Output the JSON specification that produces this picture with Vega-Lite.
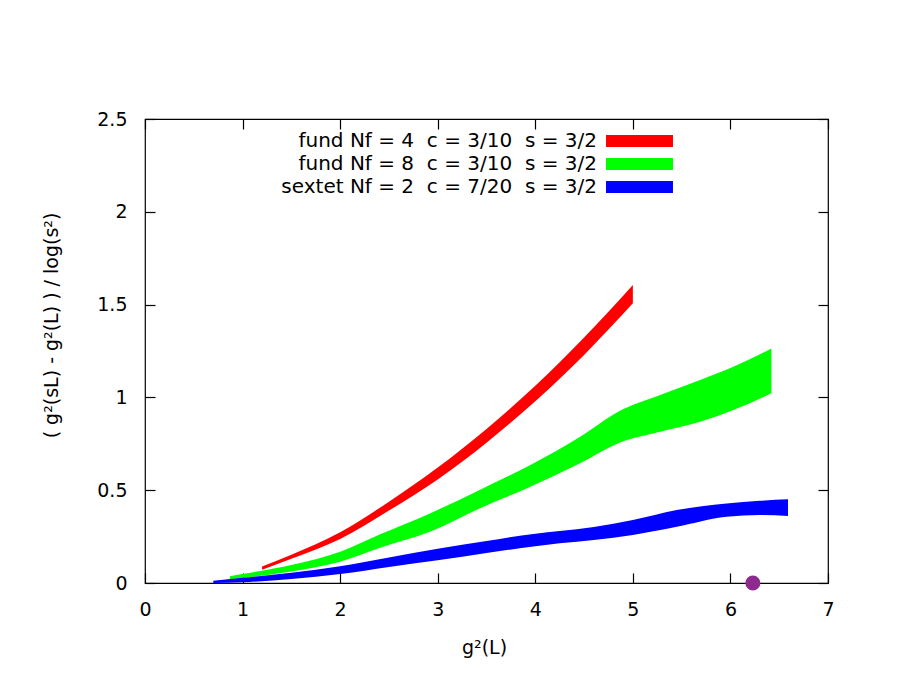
{
  "$schema": "https://vega.github.io/schema/vega-lite/v6.json",
  "width": 683,
  "height": 464,
  "autosize": "none",
  "padding": {"left": 145, "top": 119, "right": 72, "bottom": 92},
  "background": "white",
  "config": {
    "view": {"stroke": "black", "strokeWidth": 1.2},
    "font": "DejaVu Sans",
    "axis": {
      "domain": false,
      "grid": false,
      "tickColor": "black",
      "tickWidth": 1.2,
      "tickSize": -10,
      "labelFont": "DejaVu Sans",
      "labelFontSize": 19,
      "labelColor": "black",
      "labelFlush": false,
      "labelOverlap": false,
      "titleFont": "DejaVu Sans",
      "titleFontSize": 19,
      "titleFontWeight": "normal",
      "titleColor": "black"
    }
  },
  "datasets": {
    "bands": [
      {"series": "red", "x": 1.2, "lo": 0.071, "hi": 0.089},
      {"series": "red", "x": 1.5, "lo": 0.130, "hi": 0.152},
      {"series": "red", "x": 2.0, "lo": 0.237, "hi": 0.273},
      {"series": "red", "x": 2.5, "lo": 0.390, "hi": 0.438},
      {"series": "red", "x": 3.0, "lo": 0.558, "hi": 0.622},
      {"series": "red", "x": 3.5, "lo": 0.756, "hi": 0.830},
      {"series": "red", "x": 4.0, "lo": 0.979, "hi": 1.063},
      {"series": "red", "x": 4.5, "lo": 1.229, "hi": 1.323},
      {"series": "red", "x": 5.0, "lo": 1.507, "hi": 1.606},
      {"series": "green", "x": 0.87, "lo": 0.020, "hi": 0.036},
      {"series": "green", "x": 1.0, "lo": 0.027, "hi": 0.048},
      {"series": "green", "x": 1.5, "lo": 0.062, "hi": 0.097},
      {"series": "green", "x": 2.0, "lo": 0.115, "hi": 0.168},
      {"series": "green", "x": 2.41, "lo": 0.190, "hi": 0.262},
      {"series": "green", "x": 2.92, "lo": 0.276, "hi": 0.375},
      {"series": "green", "x": 3.43, "lo": 0.402, "hi": 0.501},
      {"series": "green", "x": 3.95, "lo": 0.519, "hi": 0.636},
      {"series": "green", "x": 4.46, "lo": 0.645, "hi": 0.788},
      {"series": "green", "x": 4.85, "lo": 0.753, "hi": 0.923},
      {"series": "green", "x": 5.28, "lo": 0.815, "hi": 1.013},
      {"series": "green", "x": 5.69, "lo": 0.869, "hi": 1.094},
      {"series": "green", "x": 6.03, "lo": 0.932, "hi": 1.165},
      {"series": "green", "x": 6.42, "lo": 1.022, "hi": 1.264},
      {"series": "blue", "x": 0.70, "lo": 0.000, "hi": 0.012},
      {"series": "blue", "x": 1.0, "lo": 0.004, "hi": 0.028},
      {"series": "blue", "x": 1.5, "lo": 0.022, "hi": 0.055},
      {"series": "blue", "x": 2.0, "lo": 0.048, "hi": 0.090},
      {"series": "blue", "x": 2.5, "lo": 0.086, "hi": 0.138},
      {"series": "blue", "x": 3.0, "lo": 0.122, "hi": 0.185},
      {"series": "blue", "x": 3.5, "lo": 0.162, "hi": 0.226},
      {"series": "blue", "x": 4.0, "lo": 0.198, "hi": 0.266},
      {"series": "blue", "x": 4.25, "lo": 0.214, "hi": 0.280},
      {"series": "blue", "x": 4.6, "lo": 0.232, "hi": 0.302},
      {"series": "blue", "x": 5.0, "lo": 0.259, "hi": 0.339},
      {"series": "blue", "x": 5.45, "lo": 0.303, "hi": 0.393},
      {"series": "blue", "x": 5.96, "lo": 0.357, "hi": 0.429},
      {"series": "blue", "x": 6.30, "lo": 0.366, "hi": 0.443},
      {"series": "blue", "x": 6.59, "lo": 0.361, "hi": 0.451}
    ],
    "dot": [
      {"x": 6.23, "y": 0}
    ]
  },
  "layer": [
    {
      "data": {"name": "bands"},
      "transform": [
        {"lookup": "series", "from": {"data": {"values": [
          {"series": "red", "label": "fund Nf = 4\u00a0\u00a0c = 3/10\u00a0\u00a0s = 3/2"},
          {"series": "green", "label": "fund Nf = 8\u00a0\u00a0c = 3/10\u00a0\u00a0s = 3/2"},
          {"series": "blue", "label": "sextet Nf = 2\u00a0\u00a0c = 7/20\u00a0\u00a0s = 3/2"}
        ]}, "key": "series", "fields": ["label"]}}
      ],
      "mark": {"type": "area", "interpolate": "monotone", "opacity": 1},
      "encoding": {
        "x": {
          "field": "x", "type": "quantitative",
          "scale": {"domain": [0, 7], "nice": false},
          "axis": {
            "orient": "bottom", "values": [0, 1, 2, 3, 4, 5, 6, 7], "format": "d",
            "labelPadding": 27, "title": "g²(L)",
            "titleX": 339, "titleY": 70, "titleBaseline": "alphabetic"
          }
        },
        "y": {
          "field": "lo", "type": "quantitative",
          "scale": {"domain": [0, 2.5], "nice": false},
          "axis": {
            "orient": "left", "values": [0, 0.5, 1, 1.5, 2, 2.5], "format": "~g",
            "labelPadding": 28, "title": "( g²(sL) - g²(L) ) / log(s²)",
            "titleX": -88, "titleY": 206, "titleAngle": -90,
            "titleAlign": "center", "titleBaseline": "alphabetic"
          }
        },
        "y2": {"field": "hi"},
        "color": {
          "field": "label", "type": "nominal",
          "sort": [
            "fund Nf = 4\u00a0\u00a0c = 3/10\u00a0\u00a0s = 3/2",
            "fund Nf = 8\u00a0\u00a0c = 3/10\u00a0\u00a0s = 3/2",
            "sextet Nf = 2\u00a0\u00a0c = 7/20\u00a0\u00a0s = 3/2"
          ],
          "scale": {
            "domain": [
              "fund Nf = 4\u00a0\u00a0c = 3/10\u00a0\u00a0s = 3/2",
              "fund Nf = 8\u00a0\u00a0c = 3/10\u00a0\u00a0s = 3/2",
              "sextet Nf = 2\u00a0\u00a0c = 7/20\u00a0\u00a0s = 3/2"
            ],
            "range": ["#ff0000", "#00ff00", "#0000ff"]
          },
          "legend": {
            "orient": "none", "legendX": 484.5, "legendY": 12, "title": null,
            "symbolType": "M-5.58,-1H5.58V1H-5.58Z", "symbolSize": 144,
            "symbolStrokeWidth": 0, "symbolOpacity": 1,
            "labelAlign": "right", "labelOffset": -52.5, "labelFontSize": 20,
            "labelFont": "DejaVu Sans", "labelColor": "black", "labelLimit": 0,
            "rowPadding": 3, "padding": 0
          }
        }
      }
    },
    {
      "data": {"name": "dot"},
      "mark": {"type": "circle", "color": "#8e2a8e", "opacity": 1, "size": 227},
      "encoding": {
        "x": {
          "field": "x", "type": "quantitative",
          "scale": {"domain": [0, 7], "nice": false},
          "axis": {"orient": "top", "values": [0, 1, 2, 3, 4, 5, 6, 7], "labels": false, "title": null}
        },
        "y": {
          "field": "y", "type": "quantitative",
          "scale": {"domain": [0, 2.5], "nice": false},
          "axis": {"orient": "right", "values": [0, 0.5, 1, 1.5, 2, 2.5], "labels": false, "title": null}
        }
      }
    }
  ],
  "resolve": {"axis": {"x": "independent", "y": "independent"}}
}
